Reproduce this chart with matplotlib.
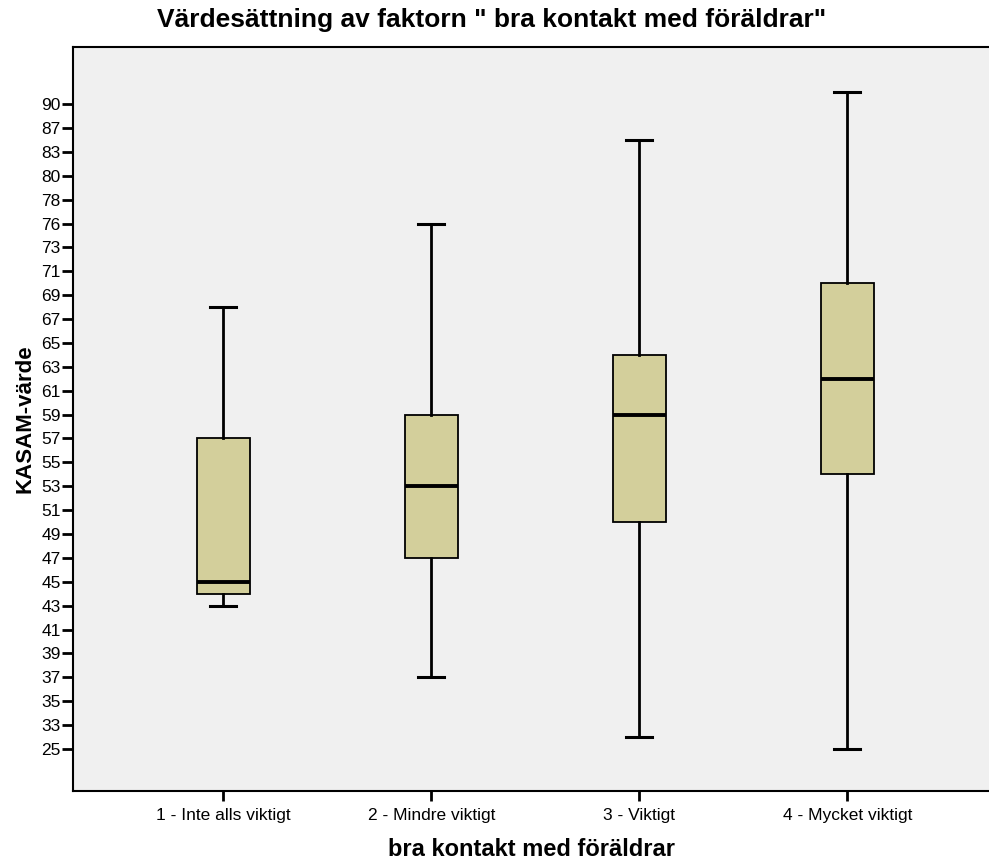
import numpy as np
import matplotlib
matplotlib.use("Agg")
import matplotlib.pyplot as plt

plt.rcParams['font.family'] = ['Liberation Sans', 'DejaVu Sans']

categories = ['1 - Inte alls viktigt', '2 - Mindre viktigt', '3 - Viktigt', '4 - Mycket viktigt']
# y axis labels as shown (ordinal, evenly spaced)
ytick_values = [25, 33, 35, 37, 39, 41, 43, 45, 47, 49, 51, 53, 55, 57, 59, 61, 63,
                65, 67, 69, 71, 73, 76, 78, 80, 83, 87, 90]

whislo = [43, 37, 29, 25]
q1 = [44, 47, 50, 54]
med = [45, 53, 59, 62]
q3 = [57, 59, 64, 70]
whishi = [68, 76, 85, 91]

# map value -> position on the ordinal axis
map_vals = ytick_values + [92]
map_idx = list(range(len(ytick_values) + 1))


def pos(v):
    return float(np.interp(v, map_vals, map_idx))


stats = []
for i in range(len(categories)):
    stats.append({
        'whislo': pos(whislo[i]), 'q1': pos(q1[i]), 'med': pos(med[i]),
        'q3': pos(q3[i]), 'whishi': pos(whishi[i]), 'fliers': [],
    })

fig = plt.figure(figsize=(9.89, 8.63), dpi=100)
ax = fig.add_axes([73 / 989, 72 / 863, 1 - 73 / 989, 744 / 863])
ax.set_facecolor('#f0f0f0')

ax.bxp(stats, positions=[1, 2, 3, 4], widths=0.255, patch_artist=True,
       showfliers=False,
       boxprops=dict(facecolor='#d3cf9b', edgecolor='black', linewidth=1.3),
       medianprops=dict(color='black', linewidth=2.8),
       whiskerprops=dict(color='black', linewidth=2),
       capprops=dict(color='black', linewidth=2.2),
       capwidths=0.125)

ax.set_xlim(0.279, 4.68)
ax.set_ylim(-1.76, 29.39)
ax.set_yticks(range(len(ytick_values)))
ax.set_yticklabels([str(v) for v in ytick_values], fontsize=12.5)
ax.set_xticks([1, 2, 3, 4])
ax.set_xticklabels(categories, fontsize=12.5)
ax.tick_params(axis='y', length=8, width=2, pad=1)
ax.tick_params(axis='x', length=7, width=2, pad=5)

for s in ['left', 'bottom', 'top']:
    ax.spines[s].set_linewidth(1.5)
ax.spines['right'].set_visible(False)

ax.set_xlabel('bra kontakt med föräldrar', fontsize=17, fontweight='bold', labelpad=11)
ax.set_ylabel('KASAM-värde', fontsize=16, fontweight='bold', labelpad=4)
fig.text(0.497, 0.977, 'Värdesättning av faktorn " bra kontakt med föräldrar"',
         ha='center', va='center', fontsize=19, fontweight='bold')

fig.savefig('out.png', dpi=100)
